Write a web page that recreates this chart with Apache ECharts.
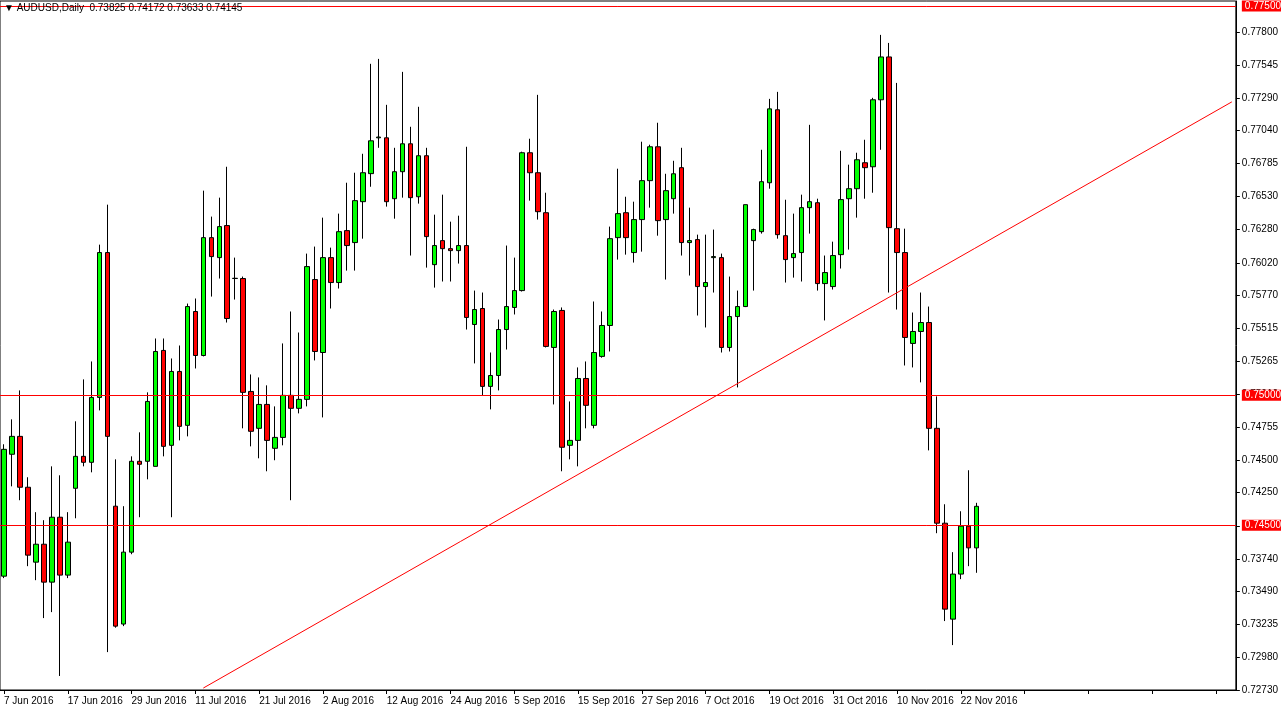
<!DOCTYPE html>
<html><head><meta charset="utf-8">
<script src="https://cdn.jsdelivr.net/npm/echarts@6/dist/echarts.min.js"></script>
<style>html,body{margin:0;padding:0;background:#fff}#c{width:1281px;height:718px}</style>
</head><body><div id="c"></div>
<script>
const title = '\u25BC AUDUSD,Daily  0.73825 0.74172 0.73633 0.74145';
const xTickLabels = ['7 Jun 2016','17 Jun 2016','29 Jun 2016','11 Jul 2016','21 Jul 2016','2 Aug 2016','12 Aug 2016','24 Aug 2016','5 Sep 2016','15 Sep 2016','27 Sep 2016','7 Oct 2016','19 Oct 2016','31 Oct 2016','10 Nov 2016','22 Nov 2016'];
const yTickLabels = [0.77800,0.77545,0.77290,0.77040,0.76785,0.76530,0.76280,0.76020,0.75770,0.75515,0.75265,0.75010,0.74755,0.74500,0.74250,0.73995,0.73740,0.73490,0.73235,0.72980,0.72730];
const opens = [0.73607,0.74546,0.74684,0.74292,0.73715,0.73853,0.73561,0.74061,0.73615,0.74284,0.74530,0.74484,0.74984,0.76100,0.74146,0.73238,0.73792,0.74492,0.74492,0.74453,
0.75346,0.74615,0.75184,0.74769,0.75646,0.75307,0.76215,0.76061,0.76308,0.75900,0.75900,0.75030,0.74746,0.74930,0.74592,0.74676,0.75000,0.74900,0.74969,0.75892,
0.75330,0.76061,0.75869,0.76269,0.76177,0.76492,0.76708,0.76984,0.76984,0.76515,0.76723,0.76938,0.76530,0.76846,0.76007,0.76192,0.76130,0.76115,0.76154,0.75546,
0.75669,0.75069,0.75153,0.75507,0.75677,0.75807,0.76869,0.76715,0.76407,0.75369,0.75654,0.74615,0.74653,0.75130,0.74769,0.75300,0.75538,0.76215,0.76407,0.76100,
0.76354,0.76654,0.76915,0.76354,0.76515,0.76754,0.76177,0.76200,0.75838,0.76061,0.76061,0.75369,0.75607,0.75684,0.76192,0.76261,0.76638,0.77200,0.76230,0.76061,
0.76100,0.76446,0.76484,0.75861,0.75838,0.76084,0.76515,0.76592,0.76792,0.76761,0.77277,0.77607,0.76284,0.76100,0.75400,0.75492,0.75561,0.74746,0.74015,0.73276,
0.73623,0.73992,0.73825];
const highs = [0.74623,0.74815,0.75038,0.74369,0.74100,0.74038,0.74453,0.74384,0.74100,0.74800,0.75123,0.75261,0.76161,0.76469,0.74507,0.74146,0.74530,0.74715,0.75023,0.75438,
0.75438,0.75284,0.75384,0.75707,0.75746,0.76577,0.76377,0.76523,0.76761,0.76061,0.75915,0.75161,0.75138,0.75077,0.74915,0.75400,0.75646,0.75484,0.76092,0.76146,
0.76369,0.76138,0.76400,0.76638,0.76715,0.76861,0.77554,0.77592,0.77238,0.76907,0.77492,0.77069,0.77223,0.76907,0.76392,0.76546,0.76338,0.76384,0.76915,0.75807,
0.75792,0.75330,0.75584,0.76154,0.76061,0.76877,0.76977,0.77315,0.76561,0.75661,0.75677,0.74953,0.75215,0.75261,0.75723,0.75646,0.76300,0.76746,0.76530,0.76492,
0.76954,0.76931,0.77100,0.76707,0.76807,0.76907,0.76446,0.76238,0.76238,0.76277,0.76092,0.75915,0.75807,0.76469,0.76284,0.76892,0.77284,0.77338,0.76507,0.76400,
0.76546,0.77084,0.76515,0.76077,0.76184,0.76884,0.76777,0.76869,0.76969,0.77292,0.77777,0.77715,0.77407,0.76284,0.75638,0.75792,0.75684,0.74992,0.74161,0.73792,
0.74107,0.74423,0.74172];
const lows = [0.73592,0.74299,0.74192,0.73684,0.73576,0.73284,0.73330,0.72838,0.73592,0.74053,0.74453,0.74407,0.74884,0.73022,0.73210,0.73222,0.73776,0.74061,0.74353,0.74453,
0.74530,0.74061,0.74653,0.74684,0.75207,0.75300,0.75761,0.75900,0.75561,0.75738,0.74746,0.74607,0.74515,0.74415,0.74500,0.74615,0.74192,0.74861,0.74915,0.75269,
0.74830,0.75669,0.75823,0.75961,0.75961,0.76207,0.76607,0.76907,0.76454,0.76361,0.76523,0.76077,0.76477,0.75984,0.75830,0.75877,0.75877,0.76015,0.75507,0.75246,
0.75000,0.74892,0.75038,0.75353,0.75623,0.75800,0.76500,0.76354,0.75369,0.74930,0.74415,0.74507,0.74453,0.74746,0.74746,0.75290,0.75338,0.76046,0.76084,0.76023,
0.76107,0.76446,0.76230,0.75892,0.76400,0.76077,0.75923,0.75615,0.75523,0.75792,0.75330,0.75338,0.75061,0.75680,0.75807,0.76246,0.76592,0.76207,0.75869,0.75907,
0.75877,0.76246,0.75807,0.75577,0.75815,0.75977,0.76123,0.76369,0.76515,0.76561,0.76892,0.75792,0.75661,0.75230,0.75215,0.75100,0.74576,0.73938,0.73261,0.73076,
0.73584,0.73684,0.73633];
const closes = [0.74584,0.74684,0.74292,0.73769,0.73853,0.73561,0.74061,0.73615,0.73869,0.74530,0.74484,0.74984,0.76100,0.74684,0.73222,0.73792,0.74492,0.74469,0.74953,0.75338,
0.74607,0.75184,0.74761,0.75684,0.75307,0.76215,0.76069,0.76300,0.75592,0.75902,0.75023,0.74723,0.74930,0.74653,0.74676,0.75000,0.74900,0.74969,0.75992,0.75338,
0.76061,0.75869,0.76261,0.76154,0.76500,0.76715,0.76961,0.76990,0.76492,0.76723,0.76938,0.76523,0.76846,0.76223,0.76154,0.76130,0.76115,0.76154,0.75600,0.75661,
0.75069,0.75153,0.75507,0.75684,0.75807,0.76869,0.76715,0.76415,0.75377,0.75646,0.74600,0.74653,0.75130,0.74923,0.75330,0.75538,0.76207,0.76400,0.76215,0.76354,
0.76654,0.76915,0.76346,0.76577,0.76707,0.76177,0.76192,0.75838,0.75869,0.76069,0.75369,0.75607,0.75684,0.76469,0.76277,0.76646,0.77207,0.76238,0.76046,0.76092,
0.76446,0.76492,0.75861,0.75946,0.76077,0.76508,0.76592,0.76815,0.76754,0.77277,0.77607,0.76292,0.76100,0.75446,0.75492,0.75561,0.74746,0.74015,0.73353,0.73623,
0.73992,0.73825,0.74145];
const levels = [0.77500, 0.75000, 0.74500];
const lastPrice = 0.74145;
const trendStart = [25, 0.72745];
const trendEnd = [154, 0.77261];
const totalSlots = 155;

const cats = [];
for (let i = 0; i < totalSlots; i++) cats.push(String(i));
const candles = opens.map((o, i) => [o, closes[i], lows[i], highs[i]]);
const font = 'Liberation Sans';
const lblStyle = (bg) => ({show:true, position:'end', color:'#fff', backgroundColor:bg,
  fontFamily: font, fontSize: 10, padding:[1,3,0,3], distance: 6});

const chart = echarts.init(document.getElementById('c'));
chart.setOption({
  animation: false,
  backgroundColor: '#ffffff',
  graphic: [{type:'text', left: 4, top: 3, z: 100, style:{text: title, font: '10px "Liberation Sans"', fill:'#000'}}],
  grid: {left: -2, right: 43, top: 1, bottom: 28, show: true, borderColor: '#000', borderWidth: 1},
  xAxis: {
    type: 'category', data: cats, boundaryGap: true,
    axisLine: {lineStyle:{color:'#000'}},
    axisTick: {show: true, interval: 7, alignWithLabel: true, lineStyle:{color:'#000'}, length: 4},
    axisLabel: {interval: 7, color:'#000', fontFamily: font, fontSize: 10, align: 'left', margin: 6,
      formatter: (v, i) => xTickLabels[Math.round(i/8)] || ''},
    splitLine: {show:false}
  },
  yAxis: {
    type: 'value', position: 'right', min: 0.7273, max: 0.78038, scale: true,
    axisLine: {show: true, lineStyle:{color:'#000'}},
    axisTick: {show: true, customValues: yTickLabels, length: 4, lineStyle:{color:'#000'}},
    axisLabel: {customValues: yTickLabels, color:'#000', fontFamily: font, fontSize: 10, margin: 6,
      formatter: v => v.toFixed(5)},
    splitLine: {show: false}
  },
  series: [{
    type: 'candlestick', data: candles, barWidth: 5,
    itemStyle: {color:'#00ff00', color0:'#ff0000', borderColor:'#000', borderColor0:'#000', borderWidth: 1}
  }, {
    type: 'line', data: [], symbol: 'none', z: 5,
    markLine: {
      silent: true, symbol: ['none','none'], animation: false,
      data: [
        ...levels.map(v => ({yAxis: v, lineStyle:{color:'#ff0000', width:1, type:'solid'},
          label: Object.assign(lblStyle('#ff0000'), {formatter: v.toFixed(5)})})),
        {yAxis: lastPrice, lineStyle:{opacity:0},
          label: Object.assign(lblStyle('#000000'), {formatter: lastPrice.toFixed(5)})},
        [{coord: [String(trendStart[0]), trendStart[1]], lineStyle:{color:'#ff0000', width:1, type:'solid'}, label:{show:false}},
         {coord: [String(trendEnd[0]), trendEnd[1]]}]
      ]
    }
  }]
});
</script></body></html>
